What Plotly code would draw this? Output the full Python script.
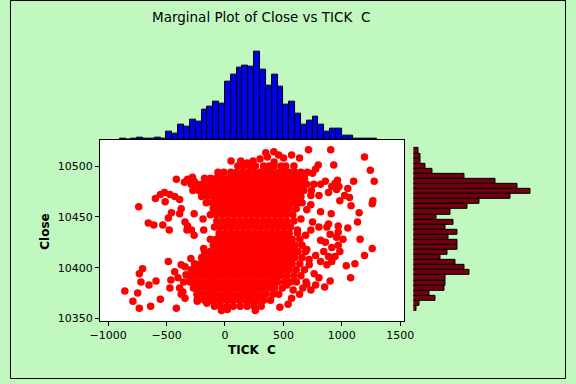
import plotly.graph_objects as go

# ---------------- data ----------------
# top marginal histogram of TICK C (bin width 50)
tick_bin_centers = [-875 + 50 * i for i in range(44)]
tick_counts = [1, 0, 1, 2, 1, 1, 2, 1, 8, 6, 15, 13, 20, 18, 30, 33, 38, 36, 59, 66,
               73, 75, 74, 89, 71, 55, 66, 54, 35, 38, 26, 15, 19, 23, 15, 8, 11, 11,
               4, 4, 1, 1, 1, 1]

# right marginal histogram of Close (bin width 5), from top (10515) to bottom (10360)
close_bin_centers = [10515 - 5 * i for i in range(32)]
close_counts = [5, 7, 7, 12, 20, 53, 85, 108, 121, 101, 68, 56, 38, 24, 41, 33,
                46, 36, 46, 46, 35, 28, 44, 53, 58, 33, 33, 32, 17, 23, 6, 3]

# dense core of the scatter, one list of TICK C values per Close level
core_close = [10500, 10494, 10488, 10482, 10476, 10470, 10464, 10458, 10452, 10446,
              10440, 10434, 10428, 10422, 10416, 10410, 10404, 10398, 10392, 10386,
              10380, 10374, 10368, 10362]
core_ticks = [
    [110, 160, 215, 260, 330, 375, 420, 480, 520, 590],
    [-60, -10, 50, 100, 150, 200, 250, 300, 350, 400, 450, 500, 550, 600, 650, 705],
    [-175, -125, -75, -25, 25, 75, 125, 175, 225, 275, 325, 375, 425, 475, 525, 575, 625, 680],
    [-290, -240, -200, -150, -100, -50, 0, 50, 100, 150, 200, 250, 300, 350, 400, 450, 500, 550, 600, 650, 700, 760],
    [-275, -225, -175, -125, -75, -25, 25, 75, 125, 175, 225, 275, 325, 375, 425, 475, 525, 575, 625, 675, 740],
    [-200, -150, -100, -50, 0, 50, 100, 150, 200, 250, 300, 350, 400, 450, 500, 550, 600, 650],
    [-160, -110, -75, -25, 25, 75, 125, 175, 225, 275, 325, 375, 425, 475, 525, 575, 625],
    [-100, -50, 0, 50, 100, 150, 200, 250, 300, 350, 400, 450, 500, 550, 610],
    [-125, -75, -25, 25, 75, 125, 175, 225, 275, 325, 375, 425, 475, 525, 580],
    [-70, -20, 30, 80, 130, 180, 230, 280, 330, 380, 430, 480, 530, 590],
    [-90, -40, 10, 60, 110, 160, 210, 260, 310, 360, 410, 460, 510, 560],
    [-50, 0, 50, 100, 150, 200, 250, 300, 350, 400, 450, 500, 550, 620],
    [-125, -75, -25, 25, 75, 125, 175, 225, 275, 325, 375, 425, 475, 525, 575, 640],
    [-100, -50, 0, 50, 100, 150, 200, 250, 300, 350, 400, 450, 500, 550, 600, 660],
    [-175, -125, -75, -25, 25, 75, 125, 175, 225, 275, 325, 375, 425, 475, 525, 575, 625, 690],
    [-200, -150, -100, -50, 0, 50, 100, 150, 200, 250, 300, 350, 400, 450, 500, 550, 600, 660],
    [-260, -210, -175, -125, -75, -25, 25, 75, 125, 175, 225, 275, 325, 375, 425, 475, 525, 575, 640],
    [-290, -250, -200, -150, -100, -50, 0, 50, 100, 150, 200, 250, 300, 350, 400, 450, 500, 550, 610],
    [-310, -275, -225, -175, -125, -75, -25, 25, 75, 125, 175, 225, 275, 325, 375, 425, 475, 530, 590],
    [-300, -250, -200, -150, -100, -50, 0, 50, 100, 150, 200, 250, 300, 350, 400, 450, 510, 560],
    [-270, -225, -175, -125, -75, -25, 25, 75, 125, 175, 225, 275, 325, 375, 425, 490],
    [-240, -200, -150, -100, -50, 0, 50, 100, 150, 200, 250, 300, 350, 410, 460],
    [-175, -125, -75, -25, 25, 75, 125, 175, 225, 275, 330, 390],
    [-90, -40, 20, 70, 130, 190, 250, 310],
]

# scattered points around the core
outer_tick = [-738, -656, -609, -532, -477, -416, -595, -553, -518, -512, -471, -430, -388,
              -485, -458, -375, -388, -347, -320, -278, -264, -342, -320, -287, -325, -264,
              -264, -188, -182, 52, 135, 190,
              -857, -788, -733, -636, -747, -719, -650, -590, -733, -705, -553, -416, -485,
              -463, -471, -430, -375, -342, -402, -353, -375, -342, -237, -155, -99, -182,
              -155, -292, -237, -264, -388, -360, -334, -237,
              349, 363, 418, 459, 501, 570, 638, 715, 905, 1194, 1244, 1277, 1266, 1260,
              931, 798, 776, 749, 1101, 1051, 1024, 983, 1066, 1079, 963, 942, 975, 1148,
              1134, 1051, 1156, 1260, 1194, 1112, 1038, 1075, 900, 853, 570, 909, 818, 886,
              969, 1010, 969, 983, 942, 735, 735, 804, 818, 859, 914, 886, 955, 749, 735,
              804, 872, 900, 955, 818, 859, 914, 845, 886, 969, 776, 818, 872, 914, 721,
              763, 804, 776, 735, 694, 666, 638, 583, 611, 529,
              650, 700, 620, 690, 660, 700, 240, 300, 420, 20, 470, 540, -30, 260,
              680, 720, 650, 700]
outer_close = [10460, 10444, 10442, 10442, 10437, 10487, 10468, 10472, 10474, 10465, 10472,
               10470, 10467, 10449, 10454, 10458, 10453, 10484, 10487, 10489, 10485, 10445,
               10441, 10437, 10437, 10432, 10453, 10448, 10437, 10505, 10505, 10503,
               10377, 10367, 10360, 10362, 10375, 10386, 10383, 10387, 10394, 10399, 10369,
               10360, 10406, 10388, 10380, 10396, 10403, 10401, 10390, 10386, 10374, 10370,
               10367, 10365, 10367, 10419, 10414, 10409, 10403, 10396, 10380, 10376, 10393,
               10369,
               10513, 10509, 10514, 10511, 10508, 10511, 10508, 10516, 10516, 10509, 10496,
               10485, 10466, 10463, 10501, 10501, 10497, 10493, 10485, 10478, 10471, 10466,
               10469, 10461, 10486, 10483, 10480, 10454, 10445, 10439, 10428, 10419, 10412,
               10404, 10402, 10390, 10387, 10381, 10370, 10453, 10455, 10443, 10441, 10428,
               10435, 10416, 10411, 10471, 10462, 10471, 10482, 10485, 10480, 10474, 10477,
               10445, 10437, 10440, 10440, 10433, 10430, 10427, 10425, 10420, 10416, 10411,
               10422, 10412, 10406, 10403, 10406, 10403, 10394, 10390, 10383, 10378, 10386,
               10380, 10374, 10378, 10386, 10383,
               10448, 10457, 10437, 10432, 10464, 10418, 10505, 10507, 10504, 10359, 10361,
               10364, 10358, 10358,
               10398, 10408, 10392, 10384]

x_ticks = [-1000, -500, 0, 500, 1000, 1500]
y_ticks = [10350, 10400, 10450, 10500]

# ---------------- assemble ----------------
scatter_x, scatter_y = [], []
for c, row in zip(core_close, core_ticks):
    scatter_x += row
    scatter_y += [c] * len(row)
scatter_x += outer_tick
scatter_y += outer_close

W, H = 576, 384
BG = "#C0F8C0"

def fx(px):
    return px / W

def fy(py):
    return 1 - py / H

main_xdom = [fx(93.3), fx(408.3)]
main_ydom = [fy(325), fy(141.7)]
xr = [-1069, 1533]
yr = [10347.8, 10525.8]

fig = go.Figure()
fig.add_trace(go.Scatter(x=scatter_x, y=scatter_y, mode="markers",
                         marker=dict(color="#FF0000", size=7.5, line=dict(width=0)),
                         xaxis="x", yaxis="y", showlegend=False, hoverinfo="skip"))
fig.add_trace(go.Bar(x=tick_bin_centers, y=tick_counts, width=50,
                     marker=dict(color="#0000E6", line=dict(color="black", width=1)),
                     xaxis="x2", yaxis="y2", showlegend=False, hoverinfo="skip"))
fig.add_trace(go.Bar(y=close_bin_centers, x=close_counts, width=5, orientation="h",
                     marker=dict(color="#73000F", line=dict(color="black", width=1)),
                     xaxis="x3", yaxis="y3", showlegend=False, hoverinfo="skip"))

tickfont = dict(family="DejaVu Sans", size=11, color="black")
fig.update_layout(
    width=W, height=H, autosize=False,
    margin=dict(l=0, r=0, t=0, b=0),
    paper_bgcolor=BG, plot_bgcolor=BG,
    bargap=0,
    xaxis=dict(domain=main_xdom, range=xr, tickvals=x_ticks, ticks="outside", ticklen=4,
               tickcolor="black", showline=True, linecolor="black", linewidth=1, mirror=True,
               showgrid=False, zeroline=False, tickfont=tickfont, tickformat="d"),
    yaxis=dict(domain=main_ydom, range=yr, tickvals=y_ticks, ticks="outside", ticklen=4,
               tickcolor="black", showline=True, linecolor="black", linewidth=1, mirror=True,
               showgrid=False, zeroline=False, tickfont=tickfont, tickformat="d"),
    xaxis2=dict(domain=main_xdom, range=xr, visible=False, anchor="y2"),
    yaxis2=dict(domain=[fy(141.3), fy(50.3)], range=[0, 91], visible=False, anchor="x2"),
    xaxis3=dict(domain=[fx(418), fx(545)], range=[0, 127], visible=False, anchor="y3"),
    yaxis3=dict(domain=main_ydom, range=yr, visible=False, anchor="x3"),
    shapes=[
        dict(type="rect", xref="x domain", yref="y domain", x0=0, x1=1, y0=0, y1=1,
             fillcolor="white", line=dict(width=0), layer="below"),
        dict(type="rect", xref="paper", yref="paper", x0=0.5 / W, x1=1 - 0.5 / W,
             y0=0.5 / H, y1=1 - 0.5 / H, line=dict(color="black", width=1)),
    ],
    annotations=[
        dict(text="Marginal Plot of Close vs TICK \u00a0C", x=fx(260), y=fy(17.5),
             xref="paper", yref="paper", showarrow=False, xanchor="center", yanchor="middle",
             font=dict(family="DejaVu Sans", size=13.5, color="black")),
        dict(text="<b>TICK \u00a0C</b>", x=fx(251), y=fy(355), xref="paper", yref="paper",
             showarrow=False, xanchor="center", yanchor="middle",
             font=dict(family="DejaVu Sans", size=12, color="black")),
        dict(text="<b>Close</b>", x=fx(36), y=fy(235), xref="paper", yref="paper",
             showarrow=False, xanchor="center", yanchor="middle", textangle=-90,
             font=dict(family="DejaVu Sans", size=12, color="black")),
    ],
)

post = ("document.documentElement.style.background='" + BG + "';"
        "document.body.style.margin='0';")
fig.write_html("out.html", config={"displayModeBar": False}, post_script=post)
